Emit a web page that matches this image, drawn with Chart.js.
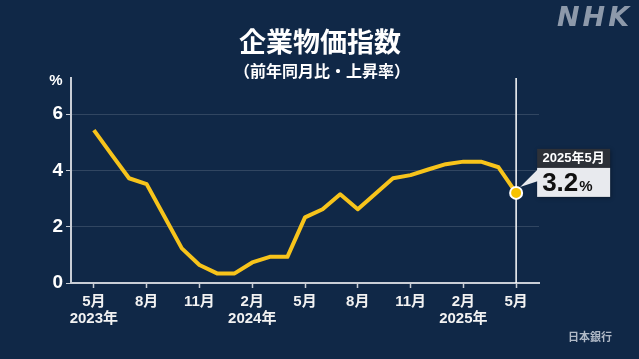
<!DOCTYPE html>
<html lang="ja">
<head>
<meta charset="utf-8">
<script src="https://cdn.jsdelivr.net/npm/chart.js@4.4.1/dist/chart.umd.min.js"></script>
<style>
  html, body { margin: 0; padding: 0; background: #102847; }
  #wrap { position: relative; width: 639px; height: 359px; overflow: hidden; background: #102847; }
  canvas { position: absolute; left: 0; top: 0; }
  #logo { position: absolute; left: 557px; top: 3px; font: italic bold 27px "DejaVu Sans", sans-serif; line-height: 27px; color: #8d99aa; letter-spacing: 3px; }
  #source { position: absolute; left: 568px; top: 331px; font: bold 11px "Noto Sans CJK JP", sans-serif; line-height: 11px; color: #b0b9c6; }
</style>
</head>
<body>
<div id="wrap">
  <canvas id="c" width="639" height="359"></canvas>
  <div id="logo">NHK</div>
  <div id="source">日本銀行</div>
</div>
<script>
// ---- data ----
const titleText = '企業物価指数';
const subtitleText = '（前年同月比・上昇率）';
const unitText = '%';
const categories = [
  '2023年5月','2023年6月','2023年7月','2023年8月','2023年9月','2023年10月','2023年11月','2023年12月',
  '2024年1月','2024年2月','2024年3月','2024年4月','2024年5月','2024年6月','2024年7月','2024年8月',
  '2024年9月','2024年10月','2024年11月','2024年12月','2025年1月','2025年2月','2025年3月','2025年4月','2025年5月'
];
const values = [
  5.43, 4.57, 3.72, 3.51, 2.37, 1.23, 0.64, 0.34,
  0.34, 0.73, 0.93, 0.93, 2.33, 2.62, 3.15, 2.62,
  3.17, 3.72, 3.83, 4.03, 4.22, 4.31, 4.31, 4.11, 3.2
];
const xTickIndex = [0, 3, 6, 9, 12, 15, 18, 21, 24];
const xTickMonth = ['5月', '8月', '11月', '2月', '5月', '8月', '11月', '2月', '5月'];
const xTickYear  = ['2023年', '', '', '2024年', '', '', '', '2025年', ''];
const yTicks = [0, 2, 4, 6];

const FONT = '"Noto Sans CJK JP", "Noto Sans", sans-serif';
const NUMFONT = '"Liberation Sans", "Noto Sans CJK JP", sans-serif';
const LINE = '#f7c41b';

const overlay = {
  id: 'overlay',
  beforeDatasetsDraw(chart) {
    const { ctx, chartArea, scales } = chart;
    const x = scales.x.getPixelForValue(values.length - 1);
    ctx.save();
    ctx.strokeStyle = '#ffffff';
    ctx.lineWidth = 1.5;
    ctx.beginPath();
    ctx.moveTo(x, chartArea.top);
    ctx.lineTo(x, chartArea.bottom);
    ctx.stroke();
    ctx.restore();
  },
  afterDraw(chart) {
    const { ctx, scales } = chart;
    ctx.save();
    ctx.fillStyle = '#ffffff';
    ctx.textAlign = 'center';
    ctx.textBaseline = 'middle';
    ctx.font = 'bold 27px ' + FONT;
    ctx.fillText(titleText, 320, 42);
    ctx.font = 'bold 16px ' + FONT;
    ctx.fillText(subtitleText, 322, 71);
    ctx.font = 'bold 15px ' + NUMFONT;
    ctx.fillText(unitText, 56, 81);

    // annotation
    const last = values.length - 1;
    const px = scales.x.getPixelForValue(last);
    const py = scales.y.getPixelForValue(values[last]);
    const bx = px + 21, bw = 73;
    const hy = py - 44, hh = 19, vy = hy + hh, vh = 29;
    ctx.shadowColor = 'rgba(0,0,0,0.35)';
    ctx.shadowBlur = 4;
    ctx.shadowOffsetX = 1;
    ctx.shadowOffsetY = 1;
    ctx.fillStyle = '#2d3138';
    ctx.fillRect(bx, hy, bw, hh);
    ctx.fillStyle = '#e8eaee';
    ctx.fillRect(bx, vy, bw, vh);
    ctx.shadowColor = 'transparent';
    ctx.beginPath();
    ctx.moveTo(px + 4, py - 6);
    ctx.lineTo(bx + 1, vy + 1);
    ctx.lineTo(bx + 1, vy + 13);
    ctx.closePath();
    ctx.fill();

    ctx.fillStyle = '#ffffff';
    ctx.font = 'bold 13px ' + NUMFONT;
    ctx.textAlign = 'center';
    ctx.fillText(categories[last], bx + bw / 2, hy + hh / 2 + 0.5);

    ctx.fillStyle = '#111111';
    ctx.textAlign = 'left';
    ctx.textBaseline = 'alphabetic';
    ctx.font = 'bold 26px ' + NUMFONT;
    const vt = values[last].toFixed(1);
    ctx.fillText(vt, bx + 5, vy + 23);
    const w = ctx.measureText(vt).width;
    ctx.font = 'bold 15px ' + NUMFONT;
    ctx.fillText('%', bx + 6 + w, vy + 23);
    ctx.restore();
  }
};

new Chart(document.getElementById('c'), {
  type: 'line',
  data: {
    datasets: [{
      data: values.map((v, i) => ({ x: i, y: v })),
      borderColor: LINE,
      borderWidth: 4,
      tension: 0,
      fill: false,
      borderJoinStyle: 'round',
      pointRadius: values.map((v, i) => i === values.length - 1 ? 6 : 0),
      pointBackgroundColor: '#f6c200',
      pointBorderColor: '#ffffff',
      pointBorderWidth: 2,
      clip: false
    }]
  },
  options: {
    responsive: false,
    devicePixelRatio: 1,
    animation: false,
    layout: { padding: { left: 0, top: 78, right: 100, bottom: 0 } },
    plugins: { legend: { display: false }, tooltip: { enabled: false }, title: { display: false } },
    scales: {
      x: {
        type: 'linear',
        min: -1.3,
        max: 25.3,
        afterBuildTicks(s) { s.ticks = xTickIndex.map(v => ({ value: v })); },
        afterFit(s) { s.height = 76; },
        border: { display: true, color: '#c9ced6', width: 2 },
        grid: { drawOnChartArea: false, drawTicks: true, tickLength: 5, tickColor: '#c9ced6', tickWidth: 1.5 },
        ticks: {
          autoSkip: false,
          maxRotation: 0,
          padding: 5,
          color: '#f2f2f2',
          font: { family: NUMFONT, size: 15, weight: 'bold', lineHeight: 1.15 },
          callback(v) {
            const k = xTickIndex.indexOf(v);
            if (k < 0) return '';
            return xTickYear[k] ? [xTickMonth[k], xTickYear[k]] : xTickMonth[k];
          }
        }
      },
      y: {
        min: 0,
        max: 7.28,
        afterBuildTicks(s) { s.ticks = yTicks.map(v => ({ value: v })); },
        afterFit(s) { s.width = 71; },
        border: { display: true, color: '#c9ced6', width: 2 },
        grid: { color: 'rgba(255,255,255,0.14)', lineWidth: 1, drawTicks: true, tickLength: 5, tickColor: '#c9ced6' },
        ticks: {
          padding: 3,
          color: '#ffffff',
          font: { family: NUMFONT, size: 19, weight: 'bold' }
        }
      }
    }
  },
  plugins: [overlay]
});
</script>
</body>
</html>
